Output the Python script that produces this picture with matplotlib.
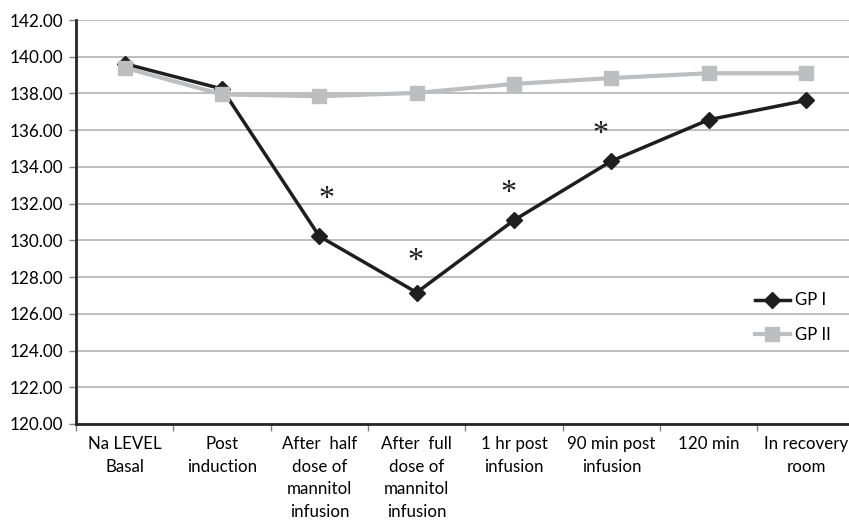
import matplotlib
matplotlib.use("Agg")
import matplotlib.pyplot as plt
import numpy as np

# Serum sodium level per time point for both groups
categories = [
    "Na LEVEL\nBasal",
    "Post\ninduction",
    "After  half\ndose of\nmannitol\ninfusion",
    "After  full\ndose of\nmannitol\ninfusion",
    "1 hr post\ninfusion",
    "90 min post\ninfusion",
    "120 min",
    "In recovery\nroom",
]
gp1 = [139.62, 138.25, 130.22, 127.16, 131.1, 134.32, 136.57, 137.62]
gp2 = [139.40, 137.95, 137.85, 138.03, 138.52, 138.84, 139.10, 139.10]

# significance markers: (x position, y value)
star_x = [2.07, 2.99, 3.94, 4.89]
star_y = [132.25, 128.85, 132.55, 135.75]

plt.rcParams["font.family"] = ["Lato", "DejaVu Sans"]

fig = plt.figure(figsize=(8.49, 5.21), dpi=100)
ax = fig.add_axes([0.0895, 0.1862, 0.9173, 0.7754])

x = np.arange(len(categories))

ax.plot(x, gp1, color="#1e1e1e", lw=2.5, marker="D", ms=8.5,
        label="GP I", zorder=3)
ax.plot(x, gp2, color="#bdbec0", lw=3, marker="s", ms=9.5,
        label="GP II", zorder=4)

for sx, sy in zip(star_x, star_y):
    ax.text(sx, sy, "*", fontsize=23, ha="center", va="center",
            family="Liberation Serif", color="#1e1e1e")

ax.set_xlim(-0.5, len(categories) - 0.5)
ax.set_ylim(120, 142)
ax.set_yticks(np.arange(120, 143, 2))
ax.set_yticklabels([f"{v:.2f}" for v in np.arange(120, 143, 2)], fontsize=12.3)
ax.yaxis.grid(True, color="#b3b3b3", lw=1.2)
ax.set_axisbelow(True)

ax.set_xticks(x)
ax.set_xticklabels(categories, fontsize=12.2, linespacing=1.5)
ax.set_xticks(np.arange(-0.5, len(categories)), minor=True)
ax.tick_params(axis="x", which="major", length=0, pad=9)
ax.tick_params(axis="x", which="minor", length=5, width=1, color="#808080")
ax.tick_params(axis="y", length=5, width=1, color="#808080", pad=4)

for s in ["top", "right"]:
    ax.spines[s].set_visible(False)
ax.spines["left"].set_linewidth(2)
ax.spines["bottom"].set_linewidth(2)
ax.spines["left"].set_color("#262626")
ax.spines["bottom"].set_color("#262626")

ax.legend(loc="upper left", bbox_to_anchor=(0.852, 0.363), frameon=False,
          fontsize=12, handlelength=2.1, handletextpad=0.3, labelspacing=1.1)

fig.savefig("out.png", dpi=100)
